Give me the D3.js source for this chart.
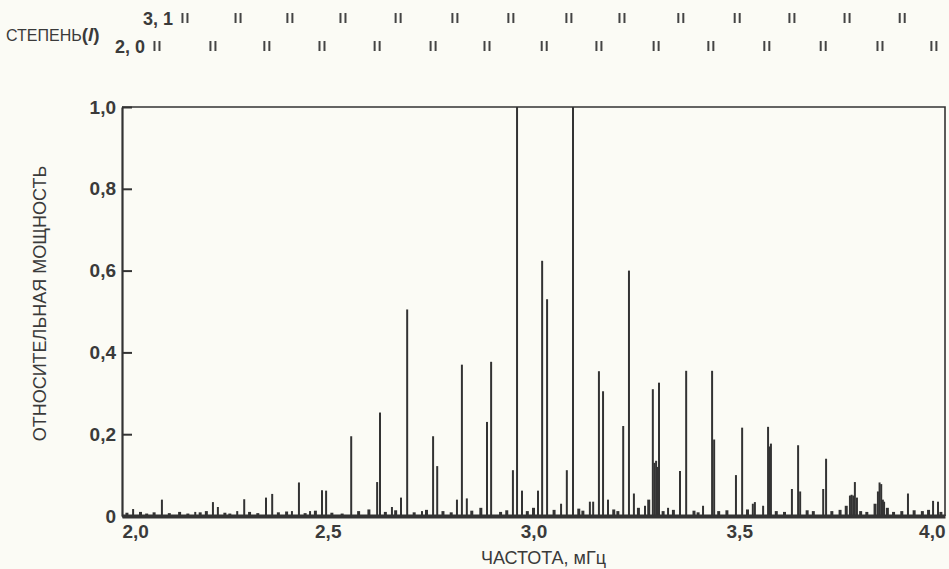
<!DOCTYPE html>
<html>
<head>
<meta charset="utf-8">
<script src="https://cdn.jsdelivr.net/npm/d3@7"></script>
<style>
  body { margin: 0; background: #fbfbf5; }
  svg { display: block; font-family: "Liberation Sans", Arial, sans-serif; }
</style>
</head>
<body>
<svg id="chart"></svg>
<script>
// main spectral peaks (frequency in mHz, relative power)
const peakFreq = [2.027, 2.097, 2.178, 2.221, 2.233, 2.280, 2.297, 2.350, 2.365, 2.413,
  2.430, 2.457, 2.486, 2.496, 2.557, 2.620, 2.627, 2.656, 2.678, 2.693,
  2.729, 2.756, 2.766, 2.814, 2.826, 2.838, 2.887, 2.897, 2.950, 2.960,
  2.972, 3.011, 3.021, 3.033, 3.067, 3.081, 3.096, 3.137, 3.145, 3.159,
  3.169, 3.181, 3.218, 3.232, 3.244, 3.271, 3.290, 3.294, 3.298, 3.301, 3.305,
  3.327, 3.356, 3.371, 3.412, 3.434, 3.439, 3.492, 3.507, 3.533, 3.538,
  3.558, 3.570, 3.574, 3.577, 3.628, 3.643, 3.648, 3.704, 3.711, 3.769, 3.773,
  3.777, 3.781, 3.786, 3.837, 3.841, 3.845, 3.849, 3.852, 3.910, 3.971, 3.983];
const peakPower = [0.017, 0.040, 0.010, 0.034, 0.022, 0.012, 0.041, 0.045, 0.054, 0.012,
  0.082, 0.012, 0.063, 0.062, 0.195, 0.083, 0.253, 0.022, 0.045, 0.505,
  0.012, 0.195, 0.122, 0.040, 0.370, 0.043, 0.230, 0.377, 0.112, 1.000,
  0.062, 0.062, 0.624, 0.530, 0.030, 0.112, 1.000, 0.035, 0.035, 0.354,
  0.305, 0.040, 0.220, 0.600, 0.055, 0.025, 0.310, 0.130, 0.135, 0.120, 0.326,
  0.020, 0.110, 0.355, 0.025, 0.355, 0.187, 0.100, 0.216, 0.030, 0.034,
  0.025, 0.218, 0.170, 0.177, 0.066, 0.173, 0.060, 0.066, 0.140, 0.050, 0.052,
  0.050, 0.083, 0.045, 0.060, 0.082, 0.078, 0.040, 0.035, 0.055, 0.037, 0.035];

// small bumps of the noisy baseline
const noiseFreq = [2.012, 2.045, 2.060, 2.078, 2.115, 2.140, 2.160, 2.190, 2.205, 2.250,
  2.262, 2.310, 2.330, 2.380, 2.400, 2.445, 2.470, 2.510, 2.535, 2.575,
  2.600, 2.640, 2.665, 2.710, 2.740, 2.780, 2.800, 2.850, 2.872, 2.920,
  2.935, 2.985, 3.000, 3.050, 3.110, 3.120, 3.195, 3.205, 3.255, 3.280,
  3.315, 3.340, 3.390, 3.400, 3.450, 3.470, 3.520, 3.590, 3.610, 3.665,
  3.680, 3.725, 3.745, 3.760, 3.795, 3.810, 3.830, 3.860, 3.875, 3.895,
  3.925, 3.945, 3.960, 3.990];
const noisePower = [0.008, 0.010, 0.006, 0.009, 0.007, 0.010, 0.006, 0.009, 0.012, 0.008,
  0.006, 0.010, 0.007, 0.009, 0.011, 0.007, 0.013, 0.008, 0.006, 0.012,
  0.016, 0.010, 0.014, 0.009, 0.015, 0.012, 0.009, 0.013, 0.020, 0.010,
  0.014, 0.012, 0.020, 0.015, 0.018, 0.013, 0.016, 0.012, 0.020, 0.040,
  0.012, 0.015, 0.013, 0.009, 0.012, 0.014, 0.016, 0.012, 0.010, 0.014,
  0.012, 0.012, 0.015, 0.025, 0.012, 0.010, 0.030, 0.020, 0.010, 0.012,
  0.014, 0.012, 0.015, 0.010];

// mode ladders along the top (pair centres, mHz)
const ladder31 = [2.153, 2.282, 2.408, 2.537, 2.671, 2.809, 2.945, 3.086, 3.215, 3.358,
  3.495, 3.628, 3.762, 3.896];
const ladder20 = [2.085, 2.221, 2.352, 2.486, 2.620, 2.756, 2.887, 3.026, 3.159, 3.298,
  3.431, 3.567, 3.704, 3.842, 3.973];

const xTicks = [2.0, 2.5, 3.0, 3.5, 4.0];
const xTickLabels = ["2,0", "2,5", "3,0", "3,5", "4,0"];
const yTicks = [0, 0.2, 0.4, 0.6, 0.8, 1.0];
const yTickLabels = ["0", "0,2", "0,4", "0,6", "0,8", "1,0"];

const width = 949;
const height = 569;
const margin = { top: 107, right: 4, bottom: 53, left: 122 };
const ink = "#333";
const textInk = "#3a3a3a";

const svg = d3.select("#chart")
  .attr("width", width)
  .attr("height", height);

const x = d3.scaleLinear()
  .domain([2, 4])
  .range([margin.left, width - margin.right]);

const y = d3.scaleLinear()
  .domain([0, 1])
  .range([height - margin.bottom, margin.top]);

// frame: top and right edges
svg.append("path")
  .attr("d", `M${x(2)},${y(1)}H${x(4)}V${y(0)}`)
  .attr("fill", "none")
  .attr("stroke", ink)
  .attr("stroke-width", 1.6);

// baseline noise
svg.append("g")
  .selectAll("line")
  .data(noiseFreq)
  .enter()
  .append("line")
  .attr("x1", d => x(d))
  .attr("x2", d => x(d))
  .attr("y1", y(0))
  .attr("y2", (d, i) => y(noisePower[i]))
  .attr("stroke", ink)
  .attr("stroke-width", 3);

// peaks
svg.append("g")
  .selectAll("line")
  .data(peakFreq)
  .enter()
  .append("line")
  .attr("x1", d => x(d))
  .attr("x2", d => x(d))
  .attr("y1", y(0))
  .attr("y2", (d, i) => y(peakPower[i]))
  .attr("stroke", ink)
  .attr("stroke-width", 2);

// y axis with inward ticks
const yAxis = svg.append("g")
  .attr("transform", `translate(${margin.left}, 0)`)
  .call(d3.axisLeft(y)
    .tickValues(yTicks)
    .tickFormat((d, i) => yTickLabels[i])
    .tickSizeInner(-10)
    .tickSizeOuter(0)
    .tickPadding(6));

yAxis.select(".domain").attr("stroke", ink).attr("stroke-width", 2.2);
yAxis.selectAll(".tick line").attr("stroke", ink).attr("stroke-width", 2);
yAxis.selectAll(".tick text")
  .attr("fill", textInk)
  .style("font-size", "19px")
  .style("font-weight", "bold");

// x axis: thick noisy baseline, no ticks
const xAxis = svg.append("g")
  .attr("transform", `translate(0, ${y(0)})`)
  .call(d3.axisBottom(x)
    .tickValues(xTicks)
    .tickFormat((d, i) => xTickLabels[i])
    .tickSize(0)
    .tickPadding(9));

xAxis.select(".domain").attr("stroke", ink).attr("stroke-width", 4);
xAxis.selectAll(".tick text")
  .attr("fill", textInk)
  .style("font-size", "19px")
  .style("font-weight", "bold")
  .attr("text-anchor", (d, i) => i === 0 ? "start" : i === xTicks.length - 1 ? "end" : "middle");

// axis titles
svg.append("text")
  .attr("x", (x(2) + x(4)) / 2 + 10)
  .attr("y", 564)
  .attr("text-anchor", "middle")
  .attr("fill", textInk)
  .style("font-size", "18px")
  .text("ЧАСТОТА, мГц");

svg.append("text")
  .attr("transform", `translate(46, ${(y(0) + y(1)) / 2 - 8}) rotate(-90)`)
  .attr("text-anchor", "middle")
  .attr("fill", textInk)
  .style("font-size", "18px")
  .text("ОТНОСИТЕЛЬНАЯ МОЩНОСТЬ");

// top ladders
const degree = svg.append("text")
  .attr("x", 6)
  .attr("y", 41)
  .attr("fill", textInk)
  .style("font-size", "16px");
degree.append("tspan").text("СТЕПЕНЬ");
degree.append("tspan")
  .style("font-size", "19px")
  .style("font-weight", "bold")
  .text("(")
  .append("tspan")
  .style("font-style", "italic")
  .text("l");
degree.append("tspan")
  .style("font-size", "19px")
  .style("font-weight", "bold")
  .text(")");

const rows = [
  { label: "3, 1", marks: ladder31, cy: 18 },
  { label: "2, 0", marks: ladder20, cy: 46 }
];

rows.forEach(row => {
  svg.append("text")
    .attr("x", x(row.marks[0]) - 12)
    .attr("y", row.cy + 7)
    .attr("text-anchor", "end")
    .attr("fill", textInk)
    .style("font-size", "18px")
    .style("font-weight", "bold")
    .text(row.label);

  const g = svg.append("g");
  [-2.5, 2.5].forEach(off => {
    g.selectAll(null)
      .data(row.marks)
      .enter()
      .append("line")
      .attr("x1", d => x(d) + off)
      .attr("x2", d => x(d) + off)
      .attr("y1", row.cy - 5)
      .attr("y2", row.cy + 5)
      .attr("stroke", "#444")
      .attr("stroke-width", 2);
  });
});
</script>
</body>
</html>
